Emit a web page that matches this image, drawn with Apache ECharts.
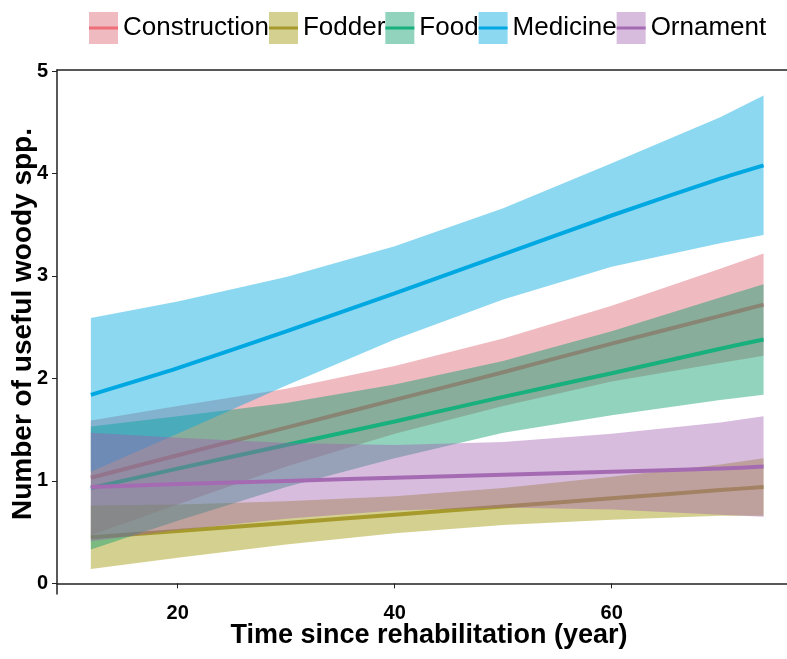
<!DOCTYPE html>
<html>
<head>
<meta charset="utf-8">
<script src="https://cdn.jsdelivr.net/npm/echarts@6/dist/echarts.min.js"></script>
<style>
  html, body { margin: 0; padding: 0; background: #fff; }
  #chart { width: 787px; height: 659px; }
</style>
</head>
<body>
<div id="chart"></div>
<script>
var years = [12, 20, 30, 40, 50, 60, 70, 74]

var constructionFit = [1.03, 1.25, 1.52, 1.79, 2.06, 2.34, 2.61, 2.72]
var constructionLo = [0.47, 0.77, 1.14, 1.46, 1.73, 1.97, 2.15, 2.22]
var constructionHi = [1.59, 1.73, 1.90, 2.12, 2.39, 2.71, 3.07, 3.22]

var fodderFit = [0.45, 0.51, 0.59, 0.67, 0.75, 0.83, 0.91, 0.94]
var fodderLo = [0.14, 0.25, 0.38, 0.49, 0.57, 0.62, 0.66, 0.66]
var fodderHi = [0.76, 0.77, 0.80, 0.85, 0.93, 1.04, 1.16, 1.22]

var foodFit = [0.93, 1.12, 1.35, 1.58, 1.82, 2.05, 2.29, 2.38]
var foodLo = [0.33, 0.61, 0.94, 1.22, 1.47, 1.64, 1.79, 1.84]
var foodHi = [1.53, 1.63, 1.76, 1.94, 2.17, 2.46, 2.79, 2.92]

var medicineFit = [1.84, 2.10, 2.46, 2.83, 3.21, 3.59, 3.95, 4.08]
var medicineLo = [1.09, 1.46, 1.93, 2.38, 2.77, 3.09, 3.32, 3.40]
var medicineHi = [2.59, 2.75, 2.99, 3.29, 3.66, 4.10, 4.55, 4.76]

var ornamentFit = [0.94, 0.97, 1.00, 1.03, 1.06, 1.09, 1.12, 1.14]
var ornamentLo = [0.41, 0.52, 0.63, 0.71, 0.74, 0.72, 0.67, 0.65]
var ornamentHi = [1.47, 1.42, 1.37, 1.35, 1.38, 1.46, 1.57, 1.63]

var xTicks = [20, 40, 60]
var yTicks = [0, 1, 2, 3, 4, 5]

var groups = [
  { name: 'Construction', fit: constructionFit, lo: constructionLo, hi: constructionHi, line: '#ef6f78', fill: 'rgba(218,90,106,0.42)' },
  { name: 'Fodder', fit: fodderFit, lo: fodderLo, hi: fodderHi, line: '#a69a2c', fill: 'rgba(163,156,16,0.47)' },
  { name: 'Food', fit: foodFit, lo: foodLo, hi: foodHi, line: '#18b07c', fill: 'rgba(16,160,112,0.46)' },
  { name: 'Medicine', fit: medicineFit, lo: medicineLo, hi: medicineHi, line: '#00a8e2', fill: 'rgba(0,169,224,0.45)' },
  { name: 'Ornament', fit: ornamentFit, lo: ornamentLo, hi: ornamentHi, line: '#a56bb2', fill: 'rgba(160,96,176,0.42)' }
]

var FONT = '"Liberation Sans", Arial, sans-serif'

function bandSeries (g, k) {
  var pts = years.map(function (x, i) { return [x, g.lo[i], g.hi[i]] })
  return {
    name: g.name,
    type: 'custom',
    silent: true,
    z: 2 + k * 2,
    data: pts,
    encode: { x: 0, y: [1, 2] },
    renderItem: function (params, api) {
      if (params.dataIndex !== 0) return null
      var poly = []
      for (var i = 0; i < pts.length; i++) poly.push(api.coord([pts[i][0], pts[i][2]]))
      for (var j = pts.length - 1; j >= 0; j--) poly.push(api.coord([pts[j][0], pts[j][1]]))
      return {
        type: 'polygon',
        shape: { points: poly },
        style: { fill: g.fill, stroke: null }
      }
    }
  }
}

function lineSeries (g, k) {
  return {
    name: g.name,
    type: 'line',
    z: 3 + k * 2,
    showSymbol: false,
    silent: true,
    smooth: 0.2,
    data: years.map(function (x, i) { return [x, g.fit[i]] }),
    lineStyle: { color: g.line, width: 4 },
    itemStyle: { color: g.line }
  }
}

// ribbon then its line, group by group, so later ribbons tint earlier lines
var series = []
groups.forEach(function (g, k) {
  series.push(bandSeries(g, k))
  series.push(lineSeries(g, k))
})

var legendText = { fontFamily: FONT, fontSize: 26, color: '#000', lineHeight: 32 }

var chart = echarts.init(document.getElementById('chart'))
chart.setOption({
  animation: false,
  backgroundColor: '#fff',
  legend: [
    {
      left: 84, top: 7, itemGap: 0, itemWidth: 29, itemHeight: 32,
      icon: 'rect', selectedMode: false,
      textStyle: legendText,
      data: groups.map(function (g) { return { name: g.name, itemStyle: { color: g.fill } } })
    },
    {
      left: 84, top: 7, itemGap: 0, itemWidth: 29, itemHeight: 3,
      icon: 'rect', selectedMode: false,
      textStyle: Object.assign({}, legendText, { color: 'rgba(0,0,0,0)' }),
      data: groups.map(function (g) { return { name: g.name, itemStyle: { color: g.line } } })
    }
  ],
  grid: { left: 57, right: 0, top: 70, bottom: 65, outerBoundsMode: 'none' },
  xAxis: [
    {
      type: 'value', min: 8.88, max: 76.16,
      name: 'Time since rehabilitation (year)',
      nameLocation: 'middle', nameGap: 28, nameMoveOverlap: false,
      nameTextStyle: { fontFamily: FONT, fontSize: 27, fontWeight: 'bold', color: '#000', padding: [0, 0, 0, 14] },
      axisLine: { show: true, lineStyle: { color: '#222', width: 1.5 } },
      axisTick: { show: true, length: 5, customValues: xTicks, lineStyle: { color: '#222' } },
      axisLabel: { customValues: xTicks, margin: 9, fontFamily: FONT, fontSize: 20, fontWeight: 'bold', color: '#000' },
      splitLine: { show: false }
    },
    {
      type: 'value', min: 8.88, max: 76.16, position: 'top',
      axisLine: { show: true, lineStyle: { color: '#222', width: 1.5 } },
      axisTick: { show: false }, axisLabel: { show: false }, splitLine: { show: false }
    }
  ],
  yAxis: {
    type: 'value', min: -0.104, max: 5.01,
    name: 'Number of useful woody spp.',
    nameLocation: 'middle', nameGap: 20, nameRotate: 90, nameMoveOverlap: false,
    nameTextStyle: { fontFamily: FONT, fontSize: 28, fontWeight: 'bold', color: '#000', padding: [0, 0, 0, 16] },
    axisLine: { show: true, lineStyle: { color: '#222', width: 1.5 } },
    axisTick: { show: true, length: 5, customValues: yTicks, lineStyle: { color: '#222' } },
    axisLabel: { customValues: yTicks, margin: 9, fontFamily: FONT, fontSize: 20, fontWeight: 'bold', color: '#000' },
    splitLine: { show: false }
  },
  series: series
})
</script>
</body>
</html>
